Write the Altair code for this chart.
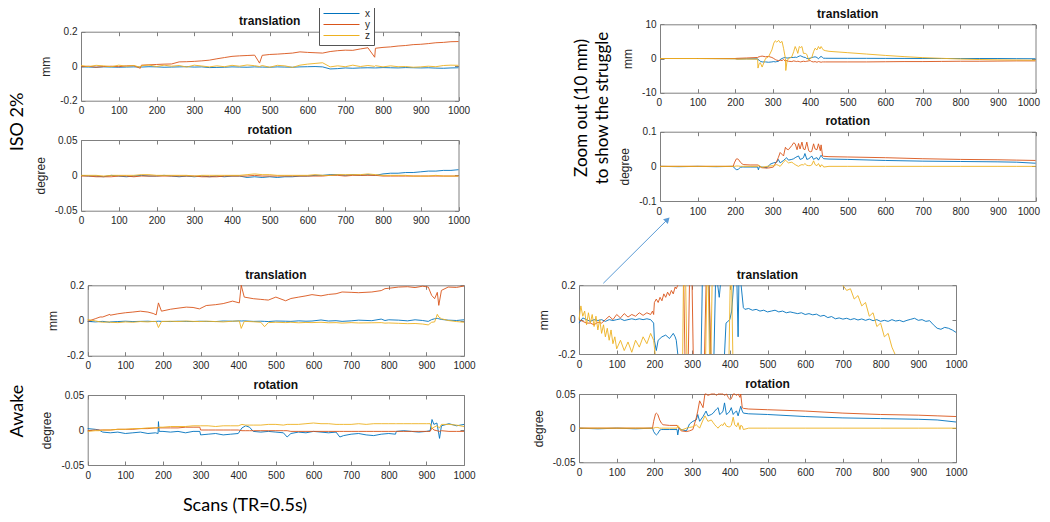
import altair as alt
import pandas as pd

# ---------------------------------------------------------------- labels / ticks
LEGEND_LABELS = ["x", "y", "z"]
COLORS = ["#0072BD", "#D95319", "#EDB120"]
X_TICKS = [0, 100, 200, 300, 400, 500, 600, 700, 800, 900, 1000]
TRANS_TICKS = [-0.2, 0, 0.2]
ROT_TICKS = [-0.05, 0, 0.05]
ZOOM_TRANS_TICKS = [-10, 0, 10]
ZOOM_ROT_TICKS = [-0.1, 0, 0.1]
PANEL_TITLES = ["translation", "rotation"]
Y_TITLES = ["mm", "degree"]
ANNOTATIONS = ["ISO 2%", "Awake", "Zoom out (10 mm)", "to show the struggle", "Scans (TR=0.5s)"]

# ---------------------------------------------------------------- ISO 2% translation
ISO_T_SCAN = [0, 20, 40, 60, 80, 100, 120, 140, 157, 160,
              180, 200, 220, 240, 260, 280, 300, 320, 340, 360, 380, 400, 420, 440, 460,
              473,
              480, 500, 520, 540, 560, 580, 600, 620, 640, 660, 680, 700, 720, 740, 760,
              778,
              780, 800, 820, 840, 860, 880, 900, 920, 940, 960, 980, 1000]
ISO_T_X = [-0.004, -0.005, -0.006, -0.004, -0.005, -0.006, -0.005, -0.004, -0.005, -0.005,
           -0.003, -0.004, -0.006, -0.005, -0.004, -0.003, -0.005, -0.004, -0.008, -0.007, -0.006, -0.004, -0.005, -0.006, -0.004,
           -0.005,
           -0.005, -0.006, -0.004, -0.005, -0.006, -0.004, -0.003, -0.002, -0.004, -0.016, -0.014, -0.010, -0.012, -0.010, -0.009,
           -0.010,
           -0.010, -0.008, -0.009, -0.010, -0.008, -0.009, -0.010, -0.009, -0.011, -0.012, -0.010, -0.009]
ISO_T_Y = [-0.004, 0.0, -0.006, -0.002, 0.0, -0.003, 0.002, 0.003, -0.012, 0.006,
           0.008, 0.010, 0.012, 0.013, 0.025, 0.026, 0.028, 0.031, 0.035, 0.043, 0.050, 0.057, 0.060, 0.062, 0.064,
           0.018,
           0.063, 0.068, 0.070, 0.073, 0.076, 0.083, 0.080, 0.078, 0.076, 0.085, 0.090, 0.093, 0.092, 0.100, 0.107,
           0.052,
           0.104, 0.109, 0.112, 0.117, 0.120, 0.125, 0.127, 0.131, 0.136, 0.138, 0.142, 0.143]
ISO_T_Z = [0.004, -0.002, 0.005, 0.002, -0.003, 0.006, 0.0, 0.004, -0.006, 0.003,
           0.007, -0.002, 0.006, 0.0, 0.004, -0.005, 0.006, 0.001, -0.004, 0.002, -0.003, 0.005, 0.0, 0.007, 0.003,
           -0.002,
           0.004, -0.006, 0.005, 0.002, -0.007, 0.006, 0.012, 0.016, 0.020, -0.004, 0.002, -0.003, 0.006, -0.002, 0.004,
           -0.001,
           0.003, -0.004, 0.002, -0.003, -0.002, -0.006, -0.004, 0.0, -0.003, 0.004, 0.006, 0.005]

# ---------------------------------------------------------------- ISO 2% rotation
ISO_R_SCAN = [0, 20, 40, 60, 80, 100, 120, 140, 160, 180, 200, 220, 240, 260, 280, 300, 320, 340, 360, 380,
              400, 420, 440, 460, 480, 500, 520, 540, 560, 580, 600, 620, 640, 660, 680, 700, 720, 740, 760, 780,
              800, 820, 840, 860, 880, 900, 920, 940, 960, 980, 1000]
ISO_R_X = [0.0, -0.001, -0.001, -0.002, 0.0, -0.001, -0.002, -0.001, 0.0, -0.001,
           -0.001, 0.0, -0.001, -0.002, -0.001, -0.002, -0.001, -0.002, -0.001, -0.002,
           -0.001, -0.001, -0.003, -0.002, -0.003, -0.002, -0.003, -0.002, -0.002, -0.001,
           -0.001, 0.0, 0.0, 0.001, 0.001, 0.0, 0.001, 0.0, 0.001, 0.0,
           0.002, 0.003, 0.003, 0.004, 0.004, 0.005, 0.006, 0.006, 0.007, 0.007, 0.008]
ISO_R_Y = [-0.001, -0.001, -0.002, -0.002, -0.002, -0.001, -0.001, -0.002, -0.001, -0.001,
           -0.001, -0.001, -0.001, -0.001, -0.001, -0.001, -0.002, -0.002, -0.002, -0.001,
           -0.001, -0.001, -0.001, 0.0, -0.001, -0.001, -0.001, -0.001, -0.001, -0.001,
           -0.001, -0.001, -0.001, 0.0, 0.0, -0.001, 0.0, 0.0, 0.0, 0.0,
           -0.001, -0.001, -0.001, -0.001, -0.001, -0.001, -0.001, -0.001, -0.001, -0.001, -0.001]
ISO_R_Z = [0.0, 0.0, 0.0, -0.001, 0.0, 0.0, 0.0, 0.0, 0.001, 0.001,
           0.0, 0.0, 0.0, 0.0, 0.0, -0.001, 0.0, 0.0, 0.0, 0.0,
           0.0, 0.0, 0.001, 0.002, 0.001, 0.001, 0.0, 0.0, 0.0, 0.0,
           0.0, 0.001, 0.0, 0.0, 0.001, 0.001, 0.001, 0.001, 0.002, 0.001,
           0.0, 0.0, 0.0, 0.0, -0.001, -0.001, -0.001, 0.0, -0.001, -0.001, -0.001]

# ---------------------------------------------------------------- Awake translation
AWK_T_SCAN = [0, 20, 33, 40, 59, 60, 80, 100, 120, 140,
              160, 174, 182, 188, 196, 220, 240, 262, 280, 297,
              315, 340, 360, 385, 403, 408, 416, 440, 460, 470,
              480, 500, 526, 540, 561, 580, 596, 620, 640, 660,
              676, 700, 720, 755, 780, 790, 800, 826, 850, 870,
              890, 905, 914, 922, 929, 933, 940, 958, 980, 1000]
AWK_T_X = [-0.005, -0.008, -0.006, -0.005, -0.010, -0.008, -0.006, -0.004, -0.006, -0.005,
           -0.004, -0.006, -0.005, -0.004, -0.005, -0.006, -0.004, -0.005, -0.006, -0.004,
           -0.005, -0.006, -0.003, -0.004, -0.002, -0.003, -0.002, -0.005, -0.004, -0.005,
           -0.006, -0.003, -0.004, -0.005, -0.002, -0.004, -0.003, 0.003, -0.003, -0.001,
           -0.005, -0.002, 0.002, -0.001, 0.008, 0.000, 0.004, 0.002, -0.002, 0.004,
           0.000, -0.005, 0.005, 0.010, 0.012, 0.010, 0.006, 0.002, 0.000, 0.004]
AWK_T_Y = [-0.005, 0.010, 0.020, 0.020, 0.035, 0.030, 0.038, 0.044, 0.048, 0.053,
           0.048, 0.040, 0.032, 0.100, 0.053, 0.064, 0.070, 0.076, 0.074, 0.066,
           0.085, 0.090, 0.096, 0.110, 0.100, 0.200, 0.133, 0.124, 0.120, 0.118,
           0.116, 0.133, 0.112, 0.125, 0.133, 0.140, 0.147, 0.140, 0.148, 0.152,
           0.162, 0.160, 0.158, 0.162, 0.170, 0.181, 0.183, 0.190, 0.192, 0.187,
           0.195, 0.190, 0.143, 0.124, 0.160, 0.086, 0.171, 0.190, 0.188, 0.196]
AWK_T_Z = [0.005, -0.002, -0.008, -0.010, -0.008, -0.010, -0.012, -0.008, -0.010, -0.006,
           -0.008, -0.005, -0.006, -0.040, -0.006, -0.004, -0.006, -0.003, -0.005, -0.006,
           -0.004, -0.006, -0.008, -0.004, -0.003, -0.045, -0.005, -0.007, -0.010, -0.035,
           -0.012, -0.010, -0.012, -0.010, -0.013, -0.011, -0.012, -0.010, -0.013, -0.012,
           -0.015, -0.012, -0.014, -0.013, -0.012, -0.015, -0.014, -0.016, -0.018, -0.017,
           -0.020, -0.025, -0.010, -0.008, 0.035, 0.020, 0.010, 0.000, -0.006, -0.010]

# ---------------------------------------------------------------- Awake rotation
AWK_R_SCAN = [0, 20, 30, 40, 60, 80, 100, 120, 140, 160,
              180, 187, 188, 190, 200, 220, 240, 260, 280, 298,
              300, 320, 340, 360, 380, 400, 410, 420, 430, 440,
              460, 480, 500, 520, 530, 540, 560, 580, 600, 620,
              640, 660, 670, 680, 700, 720, 740, 760, 780, 800,
              818, 820, 840, 860, 880, 900, 910, 915, 920, 928,
              935, 940, 960, 980, 1000]
AWK_R_X = [0.002, 0.001, 0.000, -0.003, -0.004, -0.003, -0.005, -0.004, -0.003, -0.005,
           -0.004, -0.005, 0.012, -0.002, -0.002, -0.003, -0.002, -0.004, -0.002, -0.002,
           -0.007, -0.006, -0.005, -0.007, -0.006, -0.005, 0.003, 0.006, 0.004, -0.002,
           -0.003, -0.002, -0.003, -0.004, -0.010, -0.005, -0.003, -0.004, -0.002, -0.003,
           -0.004, -0.003, -0.010, -0.008, -0.006, -0.005, -0.007, -0.008, -0.006, -0.005,
           -0.006, -0.002, -0.001, -0.002, -0.003, -0.002, -0.001, 0.015, 0.008, 0.010,
           -0.012, 0.006, 0.009, 0.006, 0.008]
AWK_R_Y = [-0.001, 0.000, 0.000, 0.000, 0.000, 0.001, 0.001, 0.001, 0.002, 0.002,
           0.003, 0.003, 0.004, 0.003, 0.003, 0.003, 0.003, 0.004, 0.004, 0.004,
           0.000, 0.000, 0.000, 0.000, 0.000, 0.000, -0.001, -0.001, -0.001, -0.001,
           -0.001, -0.001, -0.001, -0.001, -0.001, -0.002, -0.002, -0.002, -0.002, -0.002,
           -0.002, -0.002, -0.002, -0.002, -0.002, -0.002, -0.002, -0.002, -0.002, -0.002,
           -0.002, -0.002, -0.002, -0.002, -0.002, -0.002, -0.002, 0.003, 0.000, -0.001,
           -0.002, -0.001, -0.002, -0.002, -0.002]
AWK_R_Z = [-0.002, -0.001, -0.001, 0.000, 0.000, 0.001, 0.001, 0.002, 0.002, 0.003,
           0.003, 0.003, 0.004, 0.004, 0.004, 0.005, 0.005, 0.005, 0.006, 0.006,
           0.006, 0.006, 0.005, 0.006, 0.006, 0.006, 0.008, 0.007, 0.007, 0.007,
           0.007, 0.008, 0.008, 0.007, 0.008, 0.008, 0.008, 0.009, 0.010, 0.009,
           0.009, 0.008, 0.008, 0.008, 0.008, 0.009, 0.008, 0.009, 0.009, 0.009,
           0.009, 0.009, 0.009, 0.009, 0.009, 0.009, 0.009, 0.002, 0.004, 0.006,
           0.003, 0.008, 0.008, 0.007, 0.005]

# ---------------------------------------------------------------- Struggle rotation (both right panels)
STR_R_SCAN = [0, 50, 100, 150, 195, 198, 203, 205, 209, 214,
              219, 223, 240, 260, 262, 265, 271, 285, 293, 302,
              311, 315, 320, 329, 334, 337, 342, 351, 356, 360,
              365, 369, 373, 378, 382, 386, 391, 396, 400, 404,
              409, 413, 418, 422, 427, 429, 433, 436, 450, 500,
              600, 700, 800, 900, 950, 1000]
STR_R_X = [0.000, -0.001, 0.000, -0.001, 0.000, -0.005, -0.009, -0.010, -0.008, -0.003,
           -0.002, -0.002, -0.002, -0.002, -0.010, 0.000, -0.002, -0.004, 0.006, 0.010,
           0.012, 0.020, 0.010, 0.017, 0.022, 0.025, 0.018, 0.020, 0.022, 0.025,
           0.028, 0.030, 0.020, 0.022, 0.025, 0.037, 0.020, 0.022, 0.025, 0.030,
           0.020, 0.023, 0.025, 0.018, 0.028, 0.032, 0.025, 0.022, 0.021, 0.020,
           0.017, 0.015, 0.014, 0.013, 0.012, 0.009]
STR_R_Y = [0.000, 0.000, 0.000, 0.000, 0.000, 0.010, 0.021, 0.022, 0.020, 0.012,
           0.007, 0.005, 0.004, 0.004, 0.002, 0.000, -0.004, -0.005, -0.004, -0.002,
           0.015, 0.025, 0.040, 0.030, 0.055, 0.050, 0.048, 0.060, 0.068, 0.065,
           0.048, 0.066, 0.050, 0.070, 0.050, 0.048, 0.070, 0.045, 0.042, 0.043,
           0.065, 0.050, 0.048, 0.065, 0.045, 0.062, 0.030, 0.029, 0.028, 0.027,
           0.025, 0.022, 0.020, 0.019, 0.018, 0.017]
STR_R_Z = [0.000, 0.000, 0.000, 0.000, 0.000, 0.000, 0.001, 0.001, 0.001, 0.000,
           0.000, 0.000, 0.000, 0.000, 0.004, 0.002, -0.003, 0.000, 0.001, 0.002,
           0.005, 0.003, 0.000, 0.012, 0.018, 0.015, 0.010, 0.012, 0.008, 0.005,
           0.002, 0.000, 0.003, 0.005, 0.004, 0.008, 0.003, 0.002, 0.002, 0.004,
           0.016, 0.005, 0.002, 0.008, -0.002, 0.004, 0.003, -0.002, 0.000, 0.000,
           0.000, 0.000, 0.000, 0.000, 0.000, 0.000]

# ---------------------------------------------------------------- Struggle translation, zoomed out (+-10 mm)
STR_T_SCAN = [0, 100, 200, 205, 230, 260, 261, 264, 267, 272,
              281, 289, 298, 303, 307, 311, 316, 320, 325, 329,
              334, 335, 338, 342, 351, 356, 360, 364, 367, 371,
              374, 378, 382, 387, 391, 396, 400, 404, 409, 413,
              418, 422, 426, 429, 432, 435, 440, 450, 500, 550,
              600, 650, 700, 750, 800, 850, 900, 950, 1000]
STR_T_X = [0.0, 0.0, -0.05, -0.15, -0.1, -0.1, -0.3, -0.5, -0.8, -1.0,
           -1.0, -1.1, -1.0, -0.9, -1.0, -0.9, -0.8, -0.3, 0.0, 0.2,
           0.3, 0.3, 0.1, 0.2, 0.3, 0.3, 0.4, 0.3, 0.5, 0.7,
           0.8, 0.6, 0.4, 0.3, 0.0, 0.0, 0.1, 0.3, 0.4, 0.5,
           0.3, -0.1, 0.4, 0.6, 0.4, 0.1, 0.07, 0.06, 0.05, 0.05,
           0.03, 0.02, 0.0, 0.0, -0.01, 0.0, 0.0, -0.05, -0.07]
STR_T_Y = [0.0, 0.0, 0.0, 0.05, 0.15, 0.3, 0.4, 0.5, 0.6, 0.7,
           0.5, 0.6, 0.3, 0.0, -0.3, -0.5, -0.6, -0.5, -0.6, -0.3,
           -0.8, -0.5, -0.7, -0.8, -0.9, -0.7, -0.8, -0.9, -0.8, -0.9,
           -1.0, -0.9, -0.8, -0.9, -0.8, -0.7, -0.6, -0.9, -1.0, -0.9,
           -1.1, -0.9, -1.0, -1.1, -1.0, -1.0, -1.0, -1.0, -1.0, -1.0,
           -0.95, -0.9, -0.9, -0.85, -0.8, -0.8, -0.75, -0.7, -0.7]
STR_T_Z = [0.0, 0.0, -0.1, -0.2, -0.15, -0.2, -2.8, -1.5, -1.2, -2.5,
           0.0, 0.5, 2.5, 4.5, 5.2, 4.8, 5.3, 4.6, 5.0, 3.0,
           0.0, -3.5, -1.0, 0.0, 0.5, 2.0, 3.5, 2.5, 1.5, 3.5,
           3.2, 3.5, 1.5, 1.5, 1.2, -0.5, 0.0, 0.2, 2.0, 3.0,
           2.5, 3.5, 2.8, 3.5, 3.0, 2.5, 2.3, 2.1, 1.7, 1.3,
           0.9, 0.55, 0.25, 0.05, -0.15, -0.3, -0.4, -0.45, -0.5]

# ---------------------------------------------------------------- Struggle translation, +-0.2 mm view
# (None = the trace is outside the visible frame)
BR_X_SCAN = [0, 10, 20, 30, 40, 50, 60, 70, 80, 90, 100, 110, 120, 130, 140, 150, 160, 170, 180, 190,
             198, 200, 205, 210, 220, 230, 240, 250, 255, 258, 262,
             290, 324, 327, 335, 345, 348, 353, 358, 362, 365, 368, 372, 375, 380,
             386, 390, 395, 400, 405, 410, 415, 419, 422, 424, 427,
             430, 436,
             440, 450, 460, 470, 480, 490, 500, 510, 520, 530,
             540, 550, 560, 570, 580, 590, 600, 610, 620, 630,
             640, 650, 660, 670, 680, 690, 700, 710, 720, 730,
             740, 750, 760, 770, 780, 790, 800, 810, 820, 830,
             840, 850, 860, 870, 880, 890, 900, 910, 920, 930,
             940, 950, 960, 970, 980, 990, 1000]
BR_X_VAL = [-0.02, 0.01, 0.0, -0.01, 0.0, -0.005, 0.0, -0.01, 0.0, -0.005, 0.0, 0.005, -0.005, 0.0, 0.005, 0.0, 0.005, 0.0, 0.005, 0.0,
            -0.02, -0.12, -0.18, -0.12, -0.10, -0.09, -0.11, -0.08, -0.10, -0.12, -0.2,
            None, -0.2, 0.2, None, 0.2, -0.2, None, -0.2, 0.2, None, 0.2, 0.13, 0.2, None,
            -0.2, -0.02, -0.01, 0.0, 0.05, 0.2, None, 0.2, -0.1, 0.2, None,
            0.2, 0.07,
            0.06, 0.065, 0.055, 0.06, 0.05, 0.055, 0.045, 0.05, 0.055, 0.045,
            0.05, 0.04, 0.045, 0.04, 0.035, 0.04, 0.03, 0.035, 0.028, 0.032,
            0.02, 0.025, 0.012, 0.018, 0.005, 0.01, 0.003, 0.008, 0.0, 0.006,
            -0.002, 0.004, -0.004, 0.003, -0.006, 0.0, -0.01, -0.004, -0.01, 0.0,
            -0.008, -0.004, -0.012, -0.004, 0.002, 0.008, -0.004, 0.0, -0.01, -0.006,
            -0.03, -0.05, -0.056, -0.045, -0.05, -0.06, -0.074]
BR_Y_SCAN = [0, 10, 20, 30, 40, 50, 60, 70, 80, 90, 100, 110, 120, 130, 140, 150, 160, 170, 180, 190,
             195, 198, 200, 205, 210, 215, 220, 225, 230, 235, 240, 245, 250, 255, 258, 262,
             270, 278, 281, 285, 290, 293, 296, 300, 303, 318, 333, 337, 341, 345, 350]
BR_Y_VAL = [0.0, -0.01, -0.02, -0.02, -0.03, -0.015, -0.02, 0.0, 0.02, 0.0, 0.03, 0.01, 0.035, 0.015, 0.03, 0.02, 0.04, 0.025, 0.04, 0.03,
            0.05, 0.03, 0.1, 0.12, 0.1, 0.13, 0.11, 0.15, 0.13, 0.16, 0.14, 0.17, 0.15, 0.19, 0.18, 0.2,
            None, 0.2, -0.2, None, -0.2, 0.2, None, 0.2, -0.2, None, -0.2, 0.2, None, 0.2, -0.2]
BR_Z_SCAN = [0, 5, 10, 15, 20, 25, 30, 35, 40, 45, 50, 55, 60, 65, 70, 75, 80, 85, 90, 95,
             100, 110, 120, 130, 140, 150, 160, 170, 180, 190,
             198, 202,
             240, 275, 277, 280, 283, 286, 310, 336, 339, 341, 343, 346, 348, 350, 353, 375, 398, 401, 403, 405, 408, 550,
             700, 710, 720, 730, 740, 750, 760, 770, 780, 790, 800, 810, 820, 830, 838]
BR_Z_VAL = [0.0, 0.08, 0.02, 0.05, -0.03, 0.04, -0.02, 0.03, -0.04, 0.02, -0.06, 0.0, -0.08, -0.03, -0.1, -0.05, -0.12, -0.06, -0.14, -0.1,
            -0.17, -0.12, -0.18, -0.13, -0.19, -0.12, -0.16, -0.1, -0.14, -0.08,
            -0.12, -0.2,
            None, -0.2, 0.2, None, 0.2, -0.2, None, -0.2, 0.2, None, 0.2, -0.2, None, -0.2, 0.2, None, -0.2, 0.2, None, 0.2, -0.2, None,
            0.2, 0.17, 0.18, 0.12, 0.14, 0.08, 0.1, 0.02, 0.04, -0.04, -0.02, -0.1, -0.08, -0.16, -0.2]

# ---------------------------------------------------------------- helpers
CW, CH = 1034, 506
FONT = "Liberation Sans"
BIG_FONT = "Lato"
ARROW = "#5B9BD5"
LBL = "'' + datum.value"


def frame(*series):
    rows = []
    for name, scans, vals in series:
        if len(scans) != len(vals):
            raise ValueError(f"length mismatch {name}: {len(scans)} vs {len(vals)}")
        for s, v in zip(scans, vals):
            rows.append({"scan": s, "value": v, "axis": name})
    return pd.DataFrame(rows)


COLOR_ENC = alt.Color(
    "axis:N",
    scale=alt.Scale(domain=LEGEND_LABELS, range=COLORS),
    legend=alt.Legend(orient="none", legendX=311, legendY=-4, title=None, symbolType="stroke",
                      symbolSize=1296, symbolStrokeWidth=1, clipHeight=11, rowPadding=0,
                      labelFontSize=10, labelFont=FONT, labelColor="#262626", labelOffset=5,
                      fillColor="white", strokeColor="#555555", padding=4),
)


def panel(df, box, ydom, yticks, ytitle, title, clamp=False, flush=False):
    x0, x1, yt, yb = box
    xs = alt.Scale(domain=[0, 1000], range=[x0, x1], nice=False, zero=False)
    ys = alt.Scale(domain=ydom, range=[yb, yt], nice=False, zero=False, clamp=clamp)
    main = alt.Chart(df).mark_line(strokeWidth=0.9, invalid="break-paths-show-domains").encode(
        x=alt.X("scan:Q", scale=xs,
                axis=alt.Axis(orient="bottom", offset=yb - CH, values=X_TICKS, ticks=False, labelPadding=5,
                              labelExpr=LBL, labelFlush=flush, labelFlushOffset=4, labelOverlap=False,
                              title=None, grid=False)),
        y=alt.Y("value:Q", scale=ys,
                axis=alt.Axis(orient="left", offset=-x0, values=yticks, ticks=False, labelPadding=4,
                              labelExpr=LBL, labelFlush=False, labelOverlap=False, title=ytitle,
                              titlePadding=7, grid=False)),
        color=COLOR_ENC,
    )
    # inward ticks on bottom and left edges
    inner_a = alt.Chart(df).mark_line(opacity=0).encode(
        x=alt.X("scan:Q", scale=xs,
                axis=alt.Axis(orient="top", offset=-yb, values=X_TICKS, tickSize=4, labels=False,
                              domain=False, title=None, grid=False)),
        y=alt.Y("value:Q", scale=ys,
                axis=alt.Axis(orient="right", offset=x0 - CW, values=yticks, tickSize=4, labels=False,
                              domain=False, title=None, grid=False)),
    )
    # top and right frame edges with inward ticks
    inner_b = alt.Chart(df).mark_line(opacity=0).encode(
        x=alt.X("scan:Q", scale=xs,
                axis=alt.Axis(orient="bottom", offset=yt - CH, values=X_TICKS, tickSize=4, labels=False,
                              domain=True, title=None, grid=False)),
        y=alt.Y("value:Q", scale=ys,
                axis=alt.Axis(orient="left", offset=-x1, values=yticks, tickSize=4, labels=False,
                              domain=True, title=None, grid=False)),
    )
    head = alt.Chart(pd.DataFrame({"t": [title]})).mark_text(
        font=FONT, fontSize=12, fontWeight="bold", color="#111111", align="center", baseline="middle"
    ).encode(x=alt.value((x0 + x1) / 2), y=alt.value(yt - 10.5), text="t:N")
    return [main, inner_a, inner_b, head]


def note(text, x, y, size, angle=0, baseline="middle"):
    return alt.Chart(pd.DataFrame({"t": [text]})).mark_text(
        font=BIG_FONT, fontSize=size, angle=angle, color="#000000", align="center", baseline=baseline
    ).encode(x=alt.value(x), y=alt.value(y), text="t:N")


# ---------------------------------------------------------------- data frames
iso_t = frame(("x", ISO_T_SCAN, ISO_T_X), ("y", ISO_T_SCAN, ISO_T_Y), ("z", ISO_T_SCAN, ISO_T_Z))
iso_r = frame(("x", ISO_R_SCAN, ISO_R_X), ("y", ISO_R_SCAN, ISO_R_Y), ("z", ISO_R_SCAN, ISO_R_Z))
awk_t = frame(("x", AWK_T_SCAN, AWK_T_X), ("y", AWK_T_SCAN, AWK_T_Y), ("z", AWK_T_SCAN, AWK_T_Z))
awk_r = frame(("x", AWK_R_SCAN, AWK_R_X), ("y", AWK_R_SCAN, AWK_R_Y), ("z", AWK_R_SCAN, AWK_R_Z))
str_t = frame(("x", STR_T_SCAN, STR_T_X), ("y", STR_T_SCAN, STR_T_Y), ("z", STR_T_SCAN, STR_T_Z))
str_r = frame(("x", STR_R_SCAN, STR_R_X), ("y", STR_R_SCAN, STR_R_Y), ("z", STR_R_SCAN, STR_R_Z))
br_t = frame(("x", BR_X_SCAN, BR_X_VAL), ("y", BR_Y_SCAN, BR_Y_VAL), ("z", BR_Z_SCAN, BR_Z_VAL))

layers = []
layers += panel(iso_t, (73, 450.5, 23.7, 92.7), [-0.2, 0.2], TRANS_TICKS, Y_TITLES[0], PANEL_TITLES[0])
layers += panel(iso_r, (73, 450.5, 132, 202.7), [-0.05, 0.05], ROT_TICKS, Y_TITLES[1], PANEL_TITLES[1])
layers += panel(str_t, (652, 1027.5, 16.3, 84.7), [-10, 10], ZOOM_TRANS_TICKS, Y_TITLES[0], PANEL_TITLES[0],
                flush=True)
layers += panel(str_r, (652, 1027.5, 123.7, 193), [-0.1, 0.1], ZOOM_ROT_TICKS, Y_TITLES[1], PANEL_TITLES[1],
                flush=True)
layers += panel(awk_t, (79.7, 456, 277.3, 347.7), [-0.2, 0.2], TRANS_TICKS, Y_TITLES[0], PANEL_TITLES[0])
layers += panel(awk_r, (79.7, 456, 387, 457), [-0.05, 0.05], ROT_TICKS, Y_TITLES[1], PANEL_TITLES[1])
layers += panel(br_t, (571, 948, 277.3, 346), [-0.2, 0.2], TRANS_TICKS, Y_TITLES[0], PANEL_TITLES[0])
layers += panel(str_r, (571, 948, 386, 454.3), [-0.05, 0.05], ROT_TICKS, Y_TITLES[1], PANEL_TITLES[1], clamp=True)

# annotations
layers.append(note(ANNOTATIONS[0], 10, 114, 18, angle=270))
layers.append(note(ANNOTATIONS[1], 10, 403, 18, angle=270))
layers.append(note(ANNOTATIONS[2], 574, 100, 17, angle=270))
layers.append(note(ANNOTATIONS[3], 595, 100, 17, angle=270))
layers.append(note(ANNOTATIONS[4], 237, 503, 18, baseline="alphabetic"))

# arrow from the zoomed-in translation panel to the zoomed-out panels
one = pd.DataFrame({"a": [0]})
layers.append(alt.Chart(one).mark_rule(color=ARROW, strokeWidth=1).encode(
    x=alt.value(595.3), y=alt.value(275.3), x2=alt.value(660), y2=alt.value(211)))
layers.append(alt.Chart(one).mark_point(shape="triangle-up", filled=True, size=45, angle=45,
                                        color=ARROW, opacity=1).encode(
    x=alt.value(659.5), y=alt.value(211.5)))

chart = (
    alt.layer(*layers)
    .resolve_scale(x="independent", y="independent")
    .resolve_axis(x="independent", y="independent")
    .properties(width=CW, height=CH, padding=0, background="white",
                autosize=alt.AutoSizeParams(type="none"))
    .configure_view(stroke="transparent")
    .configure_axis(labelFont=FONT, titleFont=FONT, labelFontSize=10, titleFontSize=12,
                    titleFontWeight="normal", labelColor="#262626", titleColor="#262626",
                    domainColor="#808080", tickColor="#808080", domainWidth=1, tickWidth=1)
)

chart.save("out.html", embed_options={"renderer": "svg", "actions": False})
